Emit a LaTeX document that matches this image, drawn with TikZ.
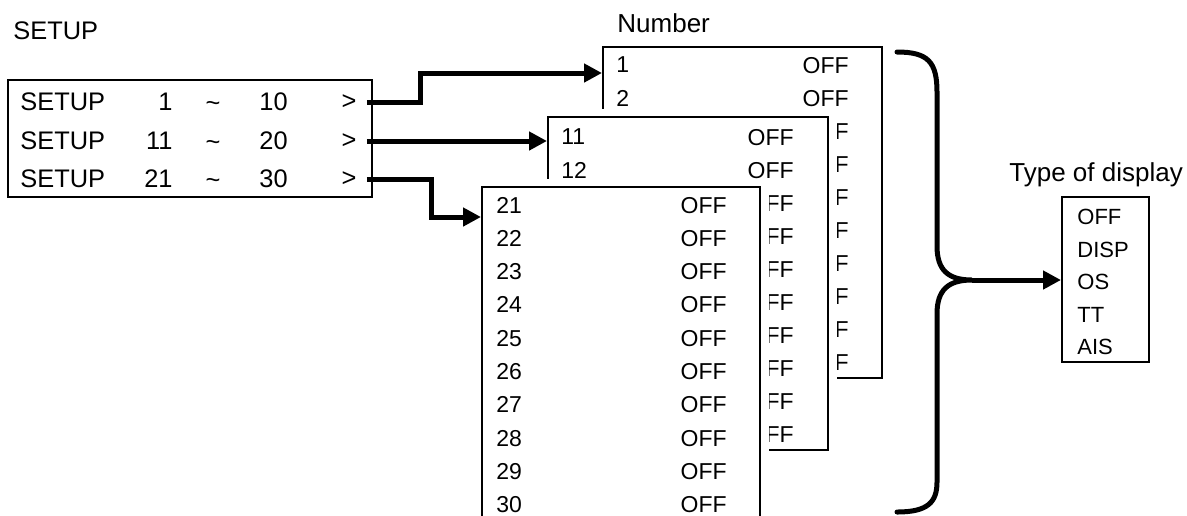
\documentclass[tikz,border=0pt]{standalone}
\usepackage{fontspec}
\setmainfont{Liberation Sans}
\usetikzlibrary{arrows.meta, positioning}
\tikzset{
  listbox/.style={draw=black, fill=white, line width=1pt, inner sep=0pt},
  halo/.style={preaction={draw=white, line width=8.5pt}},
  rowtxt/.style={inner sep=0pt, text depth=0pt, font=\fontsize{11.5}{13}\selectfont},
  setuptxt/.style={inner sep=0pt, text depth=0pt, font=\fontsize{12.7}{14}\selectfont},
  typetxt/.style={inner sep=0pt, text depth=0pt, font=\fontsize{11}{13}\selectfont},
  headtxt/.style={inner sep=0pt, text depth=0pt, font=\fontsize{13}{15}\selectfont},
  fatarrow/.style={line width=2.5pt, -{Triangle[length=9pt, width=9pt]}},
  bracepath/.style={line width=2.5pt, line cap=round},
}

\begin{document}
\begin{tikzpicture}[x=0.5pt, y=-0.5pt]
    \clip (0,0) rectangle (1187,515);
    %% headings
    \node[setuptxt, anchor=west] (setuptitle) at (13,31) {SETUP};
    \node[headtxt, anchor=west]  (numlabel)   at (617,23) {Number};
    \node[headtxt, anchor=west]  (typelabel)  at (1009,172) {Type of display};
    %% setup menu
    \node[listbox, minimum width=182pt, minimum height=58.5pt] (setup) at (190,138.5) {};
    \foreach \i/\a/\b/\y in {1/1/10/102, 2/11/20/141, 3/21/30/179} {
      \node[setuptxt, anchor=west] (sname\i)  at (20,\y)  {SETUP};
      \node[setuptxt, anchor=east] (sfrom\i)  at (173,\y) {\a};
      \node[setuptxt, anchor=base] (stilde\i) at (213,{\y+9}) {\char`\~};
      \node[setuptxt, anchor=west] (sto\i)    at (259,\y) {\b};
      \node[setuptxt]              (sgt\i)    at (349,\y) {>};
    }
    %% list 1 ~ 10
    \node[listbox, minimum width=139.5pt, minimum height=165.5pt] (numA) at (742.5,212.5) {};
    \foreach \k in {1,...,10} {
      \node[rowtxt, anchor=west] (na\k) at (616,{65+33*(\k-1)}) {\k};
      \node[rowtxt, anchor=east] (oa\k) at (849,{65+33*(\k-1)}) {OFF};
    }
    %% list 11 ~ 20
    \node[listbox, halo, minimum width=140pt, minimum height=166.5pt] (numB) at (688,283.5) {};
    \foreach \k in {1,...,10} {
      \pgfmathtruncatemacro\nn{10+\k}
      \node[rowtxt, anchor=west] (nb\k) at (561,{137+33.1*(\k-1)}) {\nn};
      \node[rowtxt, anchor=east] (ob\k) at (794,{137+33.1*(\k-1)}) {OFF};
    }
    %% list 21 ~ 30
    \node[listbox, halo, minimum width=139pt, minimum height=176.5pt] (numC) at (621,363.5) {};
    \foreach \k in {1,...,10} {
      \pgfmathtruncatemacro\nn{20+\k}
      \node[rowtxt, anchor=west] (nc\k) at (496,{205+33.3*(\k-1)}) {\nn};
      \node[rowtxt, anchor=east] (oc\k) at (727,{205+33.3*(\k-1)}) {OFF};
    }
    %% arrows from the menu
    \coordinate (kneeA) at (420,73);
    \coordinate (kneeC) at (431,217);
    \draw[fatarrow] ([xshift=5pt]sgt1.east) -| (kneeA) -- (numA.west |- kneeA);
    \draw[fatarrow] ([xshift=5pt]sgt2.east) -- (numB.west |- sgt2);
    \draw[fatarrow] ([xshift=5pt]sgt3.east) -| (kneeC) -- (numC.west |- kneeC);
    %% brace
    \coordinate (tip) at (972,280);
    \draw[bracepath] (897,52) .. controls (928,52) and (937,62) .. (937,92)
      -- (937,246) .. controls (937,270) and (948,280) .. (tip)
      .. controls (948,280) and (937,290) .. (937,314)
      -- (937,482) .. controls (937,502) and (928,512) .. (897,512);
    %% type of display
    \node[listbox, minimum width=43.5pt, minimum height=82.5pt] (typebox) at (1105.5,279.5) {};
    \foreach \t [count=\k] in {OFF,DISP,OS,TT,AIS} {
      \node[typetxt, anchor=west] (ty\k) at (1077,{217+32.5*(\k-1)}) {\t};
    }
    \draw[fatarrow] (tip) -- (typebox.west |- tip);
\end{tikzpicture}
\end{document}
